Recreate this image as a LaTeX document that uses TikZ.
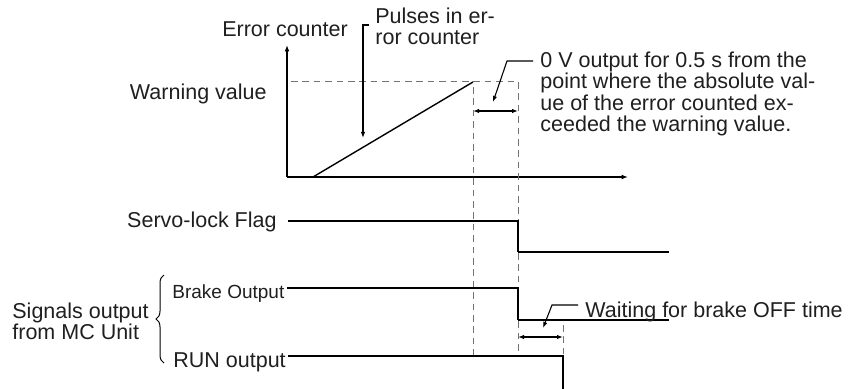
\documentclass[tikz,border=0pt]{standalone}
\usepackage{fontspec}
\setmainfont{Liberation Sans}
\usetikzlibrary{arrows.meta,decorations.pathreplacing}

\begin{document}
\begin{tikzpicture}[
    x=0.5pt, y=-0.5pt,
    font=\fontsize{10.75}{10.75}\selectfont,
    txt/.style={inner sep=0pt, text=black!88},
    smalltxt/.style={txt, font=\fontsize{9.5}{9.5}\selectfont},
    axis/.style={-{Latex[length=3.2pt,width=2.4pt]}, line width=0.7pt},
    sig/.style={line width=0.95pt},
    lowsig/.style={line width=0.6pt},
    guide/.style={dash pattern=on 3.3pt off 2.4pt, black!55, line width=0.5pt},
    dim/.style={{Latex[length=3pt,width=2.2pt]}-{Latex[length=3pt,width=2.2pt]}, line width=0.65pt},
    lead/.style={-{Latex[length=3pt,width=2.2pt]}, line width=0.55pt}
  ]
    \useasboundingbox (0,0) rectangle (855,389);
    % axes of the error counter graph
    \coordinate (O) at (287,177);
    \draw[axis, line width=1.1pt] (O) -- (287,45) coordinate (ytop);
    \draw[axis] (O) -- (628,177) coordinate (xend);
    \node[txt, anchor=base] (errlbl) at (285,37) {Error counter};
    \node[txt, anchor=base east] (warnlbl) at (267,100) {Warning value};
    \node[txt, anchor=north west, align=left] (pulselbl) at (375,7.5)
      {Pulses in er-\\ror counter};
    \node[txt, anchor=north west, align=left] (zerolbl) at (540,51.5)
      {0 V output for 0.5 s from the\\point where the absolute val-\\ue of the error counted ex-\\ceeded the warning value.};
    % ramp and warning level
    \coordinate (rampS) at (313,177);
    \coordinate (rampE) at (473,82);
    \draw[line width=0.7pt] (rampS) -- (rampE);
    \draw[guide] (291,82) -- (518,82) coordinate (warnE);
    % guide lines
    \draw[guide] (473,87) -- (473,356);
    \draw[guide] (warnE) -- (518,356);
    \draw[guide] (563,325) -- (563,356);
    \draw[dim] (473,111) -- (518,111);
    \draw[lead] (369,25) -- (363,25) -- (363,138);
    \draw[lead] (533,61) -- (507,61) -- (493,102);
    % signals
    \node[txt, anchor=base east] (servolbl) at (277,228) {Servo-lock Flag};
    \draw[sig] (288,221) -- (518,221) -- (518,252);
    \draw[lowsig] (518,252) -- (669,252);
    \node[txt, anchor=north west, align=left] (siglbl) at (12,302.5)
      {Signals output\\from MC Unit};
    \draw[decorate, decoration={brace, amplitude=4pt}, line width=0.5pt]
      (164,363) -- (164,275);
    \node[smalltxt, anchor=base west] (brakelbl) at (172,298.5) {Brake Output};
    \draw[sig] (287,288) -- (518,288) -- (518,320);
    \draw[lowsig] (518,320) -- (669,320);
    \node[txt, anchor=base west] (runlbl) at (173,367) {RUN output};
    \draw[sig] (288,356) -- (563,356) -- (563,389);
    \draw[dim] (518,337) -- (563,337);
    \draw[lead] (578,305) -- (552,305) -- (543,328);
    \node[txt, anchor=base west] (waitlbl) at (585,317) {Waiting for brake OFF time};
\end{tikzpicture}
\end{document}
